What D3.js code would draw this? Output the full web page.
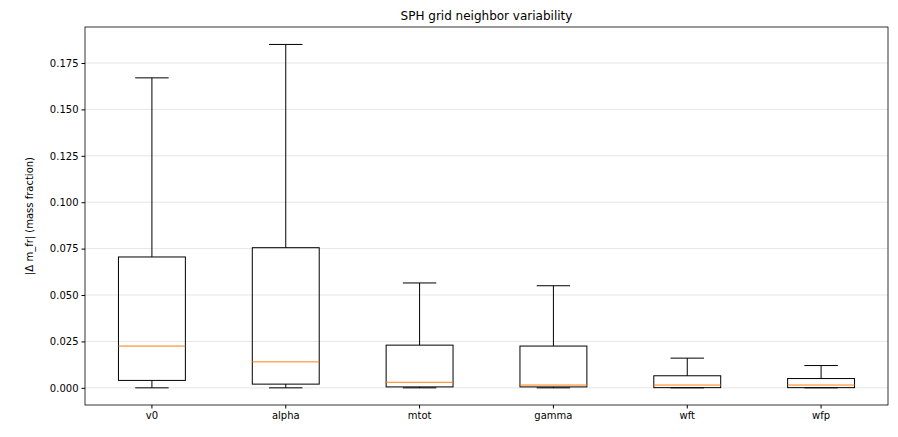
<!DOCTYPE html>
<html><head><meta charset="utf-8">
<script src="https://cdn.jsdelivr.net/npm/d3@7"></script>
<style>body{margin:0;background:#fff;font-family:"DejaVu Sans",sans-serif;}</style>
</head><body><svg id="c" width="898" height="437"></svg>
<script>
const categories = ["v0", "alpha", "mtot", "gamma", "wft", "wfp"];
const whiskerLow = [0, 0, 0, 0, 0, 0];
const q1 = [0.004, 0.002, 0.0005, 0.0005, 0.0001, 0.0001];
const medians = [0.0225, 0.014, 0.003, 0.0015, 0.0015, 0.0015];
const q3 = [0.0705, 0.0755, 0.023, 0.0225, 0.0065, 0.005];
const whiskerHigh = [0.167, 0.185, 0.0565, 0.055, 0.016, 0.012];
const yTicks = [0, 0.025, 0.05, 0.075, 0.1, 0.125, 0.15, 0.175];

const svg = d3.select("#c");
const m = {l: 85, r: 888, t: 27, b: 405};
const x = d3.scaleBand().domain(categories).range([m.l, m.r]).paddingInner(0.5).paddingOuter(0.25);
const y = d3.scaleLinear().domain([-0.00925, 0.1944]).range([m.b, m.t]);

svg.append("g").selectAll("line").data(yTicks).join("line")
  .attr("x1", m.l).attr("x2", m.r).attr("y1", d => y(d)).attr("y2", d => y(d))
  .attr("stroke", "#e6e6e6");

const ya = svg.append("g").attr("transform", `translate(${m.l},0)`)
  .call(d3.axisLeft(y).tickValues(yTicks).tickFormat(d3.format(".3f")).tickSize(3.5));
const xa = svg.append("g").attr("transform", `translate(0,${m.b})`)
  .call(d3.axisBottom(x).tickSize(3.5));
[ya, xa].forEach(a => { a.select(".domain").remove(); a.selectAll("text").attr("font-size", 10).attr("fill", "#000").attr("font-family", "DejaVu Sans"); });

svg.append("rect").attr("x", m.l).attr("y", m.t).attr("width", m.r - m.l).attr("height", m.b - m.t)
  .attr("fill", "none").attr("stroke", "#000").attr("stroke-width", 0.8);

const g = svg.append("g").selectAll("g").data(categories).join("g");
const bw = x.bandwidth(), cx = c => x(c) + bw / 2;
g.append("line").attr("x1", cx).attr("x2", cx).attr("y1", (d, i) => y(q3[i])).attr("y2", (d, i) => y(whiskerHigh[i])).attr("stroke", "#000");
g.append("line").attr("x1", cx).attr("x2", cx).attr("y1", (d, i) => y(q1[i])).attr("y2", (d, i) => y(whiskerLow[i])).attr("stroke", "#000");
g.append("line").attr("x1", d => cx(d) - bw / 4).attr("x2", d => cx(d) + bw / 4).attr("y1", (d, i) => y(whiskerHigh[i])).attr("y2", (d, i) => y(whiskerHigh[i])).attr("stroke", "#000");
g.append("line").attr("x1", d => cx(d) - bw / 4).attr("x2", d => cx(d) + bw / 4).attr("y1", (d, i) => y(whiskerLow[i])).attr("y2", (d, i) => y(whiskerLow[i])).attr("stroke", "#000");
g.append("rect").attr("x", d => x(d)).attr("width", bw).attr("y", (d, i) => y(q3[i])).attr("height", (d, i) => y(q1[i]) - y(q3[i]))
  .attr("fill", "none").attr("stroke", "#000");
g.append("line").attr("x1", d => x(d)).attr("x2", d => x(d) + bw).attr("y1", (d, i) => y(medians[i])).attr("y2", (d, i) => y(medians[i])).attr("stroke", "#ff7f0e");

svg.append("text").attr("x", (m.l + m.r) / 2).attr("y", 20).attr("text-anchor", "middle").attr("font-size", 12).text("SPH grid neighbor variability");
svg.append("text").attr("transform", `translate(33,${(m.t + m.b) / 2}) rotate(-90)`).attr("text-anchor", "middle").attr("font-size", 10).text("|Δ m_fr| (mass fraction)");
</script></body></html>
